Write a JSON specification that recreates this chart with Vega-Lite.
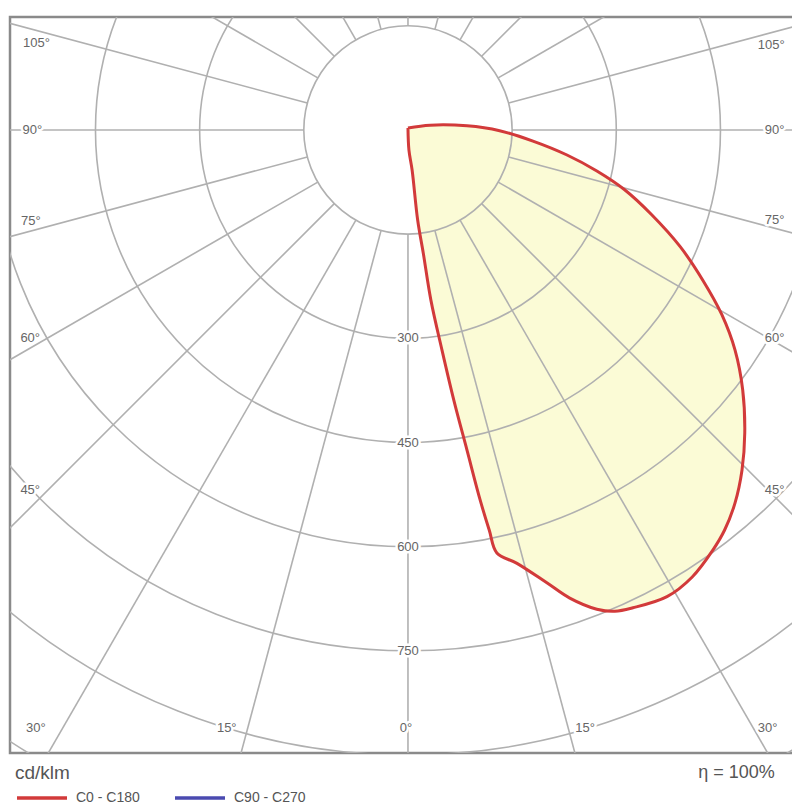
{
  "$schema": "https://vega.github.io/schema/vega-lite/v6.json",
  "width": 784,
  "height": 736,
  "autosize": "none",
  "padding": {"left": 10, "top": 17, "right": 0, "bottom": 55},
  "background": "white",
  "config": {
    "view": {"stroke": "#8a8a8a", "strokeWidth": 2.5},
    "font": "Liberation Sans"
  },
  "datasets": {
    "curve": [
      {"i": 0, "x": 0, "y": 3, "plane": "C0 - C180"},
      {"i": 1, "x": 1.4, "y": -29, "plane": "C0 - C180"},
      {"i": 2, "x": 6, "y": -58, "plane": "C0 - C180"},
      {"i": 3, "x": 14, "y": -130, "plane": "C0 - C180"},
      {"i": 4, "x": 22, "y": -177, "plane": "C0 - C180"},
      {"i": 5, "x": 33, "y": -245, "plane": "C0 - C180"},
      {"i": 6, "x": 49, "y": -317, "plane": "C0 - C180"},
      {"i": 7, "x": 66, "y": -389, "plane": "C0 - C180"},
      {"i": 8, "x": 85, "y": -461, "plane": "C0 - C180"},
      {"i": 9, "x": 104, "y": -533, "plane": "C0 - C180"},
      {"i": 10, "x": 117, "y": -576, "plane": "C0 - C180"},
      {"i": 11, "x": 128, "y": -609, "plane": "C0 - C180"},
      {"i": 12, "x": 157, "y": -624, "plane": "C0 - C180"},
      {"i": 13, "x": 200, "y": -652, "plane": "C0 - C180"},
      {"i": 14, "x": 233, "y": -674, "plane": "C0 - C180"},
      {"i": 15, "x": 272, "y": -690, "plane": "C0 - C180"},
      {"i": 16, "x": 298, "y": -693, "plane": "C0 - C180"},
      {"i": 17, "x": 324, "y": -688, "plane": "C0 - C180"},
      {"i": 18, "x": 373, "y": -672, "plane": "C0 - C180"},
      {"i": 19, "x": 409, "y": -644, "plane": "C0 - C180"},
      {"i": 20, "x": 439, "y": -605, "plane": "C0 - C180"},
      {"i": 21, "x": 456, "y": -576, "plane": "C0 - C180"},
      {"i": 22, "x": 471, "y": -537, "plane": "C0 - C180"},
      {"i": 23, "x": 481, "y": -490, "plane": "C0 - C180"},
      {"i": 24, "x": 485, "y": -436, "plane": "C0 - C180"},
      {"i": 25, "x": 482, "y": -374, "plane": "C0 - C180"},
      {"i": 26, "x": 471, "y": -317, "plane": "C0 - C180"},
      {"i": 27, "x": 452, "y": -266, "plane": "C0 - C180"},
      {"i": 28, "x": 425, "y": -217, "plane": "C0 - C180"},
      {"i": 29, "x": 392, "y": -168, "plane": "C0 - C180"},
      {"i": 30, "x": 351, "y": -122, "plane": "C0 - C180"},
      {"i": 31, "x": 312, "y": -86, "plane": "C0 - C180"},
      {"i": 32, "x": 272, "y": -59, "plane": "C0 - C180"},
      {"i": 33, "x": 229, "y": -36, "plane": "C0 - C180"},
      {"i": 34, "x": 180, "y": -16, "plane": "C0 - C180"},
      {"i": 35, "x": 132, "y": -1, "plane": "C0 - C180"},
      {"i": 36, "x": 85, "y": 6, "plane": "C0 - C180"},
      {"i": 37, "x": 32, "y": 7, "plane": "C0 - C180"},
      {"i": 38, "x": 0, "y": 3, "plane": "C0 - C180"}
    ],
    "circles": [
      {"r": 150}, {"r": 300}, {"r": 450}, {"r": 600}, {"r": 750}, {"r": 900}, {"r": 1050}
    ],
    "radials": [
      {"g": 0, "x": 0, "y": -150, "x2": 0, "y2": -1300},
      {"g": 15, "x": 38.8, "y": -144.9, "x2": 336.5, "y2": -1255.7},
      {"g": 30, "x": 75, "y": -129.9, "x2": 650, "y2": -1125.8},
      {"g": 45, "x": 106.1, "y": -106.1, "x2": 919.2, "y2": -919.2},
      {"g": 60, "x": 129.9, "y": -75, "x2": 1125.8, "y2": -650},
      {"g": 75, "x": 144.9, "y": -38.8, "x2": 1255.7, "y2": -336.5},
      {"g": 90, "x": 150, "y": 0, "x2": 1300, "y2": 0},
      {"g": 105, "x": 144.9, "y": 38.8, "x2": 1255.7, "y2": 336.5},
      {"g": 120, "x": 129.9, "y": 75, "x2": 1125.8, "y2": 650},
      {"g": 135, "x": 106.1, "y": 106.1, "x2": 919.2, "y2": 919.2},
      {"g": 150, "x": 75, "y": 129.9, "x2": 650, "y2": 1125.8},
      {"g": 165, "x": 38.8, "y": 144.9, "x2": 336.5, "y2": 1255.7},
      {"g": 180, "x": 0, "y": 150, "x2": 0, "y2": 1300},
      {"g": -15, "x": -38.8, "y": -144.9, "x2": -336.5, "y2": -1255.7},
      {"g": -30, "x": -75, "y": -129.9, "x2": -650, "y2": -1125.8},
      {"g": -45, "x": -106.1, "y": -106.1, "x2": -919.2, "y2": -919.2},
      {"g": -60, "x": -129.9, "y": -75, "x2": -1125.8, "y2": -650},
      {"g": -75, "x": -144.9, "y": -38.8, "x2": -1255.7, "y2": -336.5},
      {"g": -90, "x": -150, "y": 0, "x2": -1300, "y2": 0},
      {"g": -105, "x": -144.9, "y": 38.8, "x2": -1255.7, "y2": 336.5},
      {"g": -120, "x": -129.9, "y": 75, "x2": -1125.8, "y2": 650},
      {"g": -135, "x": -106.1, "y": 106.1, "x2": -919.2, "y2": 919.2},
      {"g": -150, "x": -75, "y": 129.9, "x2": -650, "y2": 1125.8},
      {"g": -165, "x": -38.8, "y": 144.9, "x2": -336.5, "y2": 1255.7}
    ],
    "labels": [
      {"t": "105°", "x": -535, "y": 125},
      {"t": "90°", "x": -541, "y": 0},
      {"t": "75°", "x": -543, "y": -131},
      {"t": "60°", "x": -544, "y": -299},
      {"t": "45°", "x": -544, "y": -518},
      {"t": "30°", "x": -536, "y": -861},
      {"t": "15°", "x": -261, "y": -861},
      {"t": "0°", "x": -3, "y": -861},
      {"t": "15°", "x": 255, "y": -861},
      {"t": "30°", "x": 518, "y": -861},
      {"t": "105°", "x": 523, "y": 122},
      {"t": "90°", "x": 528, "y": 0},
      {"t": "75°", "x": 528, "y": -130},
      {"t": "60°", "x": 528, "y": -299},
      {"t": "45°", "x": 528, "y": -518},
      {"t": "300", "x": 0, "y": -300},
      {"t": "450", "x": 0, "y": -450},
      {"t": "600", "x": 0, "y": -600},
      {"t": "750", "x": 0, "y": -750}
    ]
  },
  "layer": [
    {
      "data": {"name": "curve"},
      "mark": {"type": "line", "fill": "#fbfbd6", "strokeOpacity": 0, "interpolate": "catmull-rom", "clip": true},
      "encoding": {
        "x": {"field": "x", "type": "quantitative", "scale": {"domain": [-573.1, 555.9], "nice": false, "zero": false}, "axis": null},
        "y": {"field": "y", "type": "quantitative", "scale": {"domain": [-897.1, 162.7], "nice": false, "zero": false}, "axis": null},
        "order": {"field": "i", "type": "quantitative"}
      }
    },
    {
      "data": {"name": "circles"},
      "mark": {"type": "point", "shape": "circle", "filled": false, "stroke": "#b0b0b0", "strokeWidth": 1.6, "opacity": 1, "clip": true},
      "encoding": {
        "x": {"datum": 0, "type": "quantitative", "scale": {"domain": [-573.1, 555.9], "nice": false, "zero": false}, "axis": null},
        "y": {"datum": 0, "type": "quantitative", "scale": {"domain": [-897.1, 162.7], "nice": false, "zero": false}, "axis": null},
        "size": {"field": "r", "type": "quantitative", "legend": null, "scale": {"type": "pow", "exponent": 2, "domain": [0, 1050], "range": [0, 2126736], "zero": true}}
      }
    },
    {
      "data": {"name": "radials"},
      "mark": {"type": "rule", "stroke": "#b0b0b0", "strokeWidth": 1.6, "clip": true},
      "encoding": {
        "x": {"field": "x", "type": "quantitative", "scale": {"domain": [-573.1, 555.9], "nice": false, "zero": false}, "axis": null},
        "y": {"field": "y", "type": "quantitative", "scale": {"domain": [-897.1, 162.7], "nice": false, "zero": false}, "axis": null},
        "x2": {"field": "x2"},
        "y2": {"field": "y2"}
      }
    },
    {
      "data": {"name": "curve"},
      "mark": {"type": "line", "strokeWidth": 3, "strokeJoin": "round", "interpolate": "catmull-rom", "clip": true},
      "encoding": {
        "x": {"field": "x", "type": "quantitative", "scale": {"domain": [-573.1, 555.9], "nice": false, "zero": false}, "axis": null},
        "y": {"field": "y", "type": "quantitative", "scale": {"domain": [-897.1, 162.7], "nice": false, "zero": false}, "axis": null},
        "order": {"field": "i", "type": "quantitative"},
        "color": {
          "field": "plane", "type": "nominal",
          "scale": {"domain": ["C0 - C180", "C90 - C270"], "range": ["#d23a3a", "#4a4ab0"]},
          "legend": {
            "title": "cd/klm", "orient": "bottom", "direction": "horizontal", "titleOrient": "top",
            "titleFontSize": 19, "titleFontWeight": "normal", "titleColor": "#555", "titlePadding": -12,
            "labelFontSize": 14, "labelColor": "#555", "labelOffset": 7,
            "symbolType": "stroke", "symbolSize": 2500, "symbolStrokeWidth": 3.5,
            "columnPadding": 28, "offset": 6, "padding": 5
          }
        }
      }
    },
    {
      "data": {"name": "labels"},
      "mark": {"type": "text", "fontSize": 13, "stroke": "white", "strokeWidth": 5, "fill": "white", "strokeJoin": "round"},
      "encoding": {
        "x": {"field": "x", "type": "quantitative", "scale": {"domain": [-573.1, 555.9], "nice": false, "zero": false}, "axis": null},
        "y": {"field": "y", "type": "quantitative", "scale": {"domain": [-897.1, 162.7], "nice": false, "zero": false}, "axis": null},
        "text": {"field": "t"}
      }
    },
    {
      "data": {"name": "labels"},
      "mark": {"type": "text", "fontSize": 13, "fill": "#666"},
      "encoding": {
        "x": {"field": "x", "type": "quantitative", "scale": {"domain": [-573.1, 555.9], "nice": false, "zero": false}, "axis": null},
        "y": {"field": "y", "type": "quantitative", "scale": {"domain": [-897.1, 162.7], "nice": false, "zero": false}, "axis": null},
        "text": {"field": "t"}
      }
    },
    {
      "data": {"values": [{"t": "η = 100%"}]},
      "mark": {"type": "text", "fontSize": 18, "fill": "#555", "align": "left"},
      "encoding": {
        "x": {"datum": 418, "type": "quantitative", "scale": {"domain": [-573.1, 555.9], "nice": false, "zero": false}, "axis": null},
        "y": {"datum": -926, "type": "quantitative", "scale": {"domain": [-897.1, 162.7], "nice": false, "zero": false}, "axis": null},
        "text": {"field": "t"}
      }
    }
  ]
}
